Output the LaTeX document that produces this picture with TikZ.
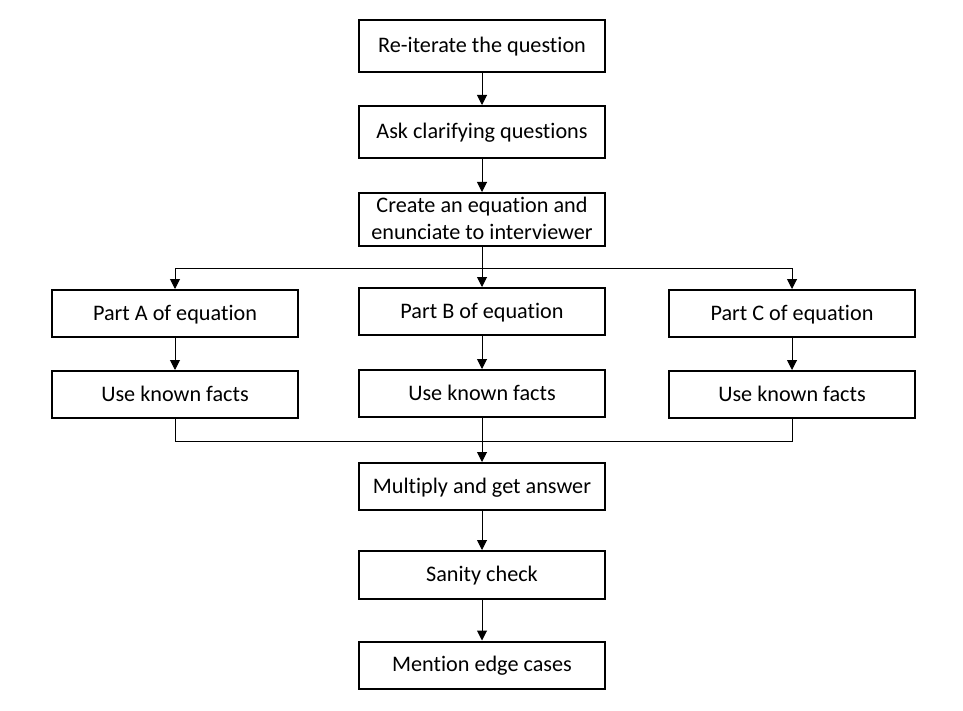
\documentclass[tikz,border=0pt]{standalone}
\usepackage{fontspec}
\setmainfont[Ligatures={NoCommon}]{Carlito}
\usetikzlibrary{arrows.meta}
\begin{document}
\begin{tikzpicture}[x=0.5pt,y=-0.5pt,
  box/.style={draw=black,line width=1pt,minimum width=123pt,inner sep=0pt,align=center,font=\fontsize{11.1}{13.5}\selectfont,text depth=1pt},
  conn/.style={line width=0.5pt,draw=black},
  arr/.style={conn,-{Triangle[length=5pt,width=5pt]}}]
\fill[white] (0,0) rectangle (963,711);
\useasboundingbox (0,0) rectangle (963,711);
\node[box,minimum height=26pt] (b1) at (482,46) {Re-iterate the question};
\node[box,minimum height=26pt] (b2) at (482,132) {Ask clarifying questions};
\node[box,minimum height=26.5pt] (b3) at (482,219.5) {Create an equation and\\enunciate to interviewer};
\node[box,minimum height=23.5pt] (pa) at (175,313.5) {Part A of equation};
\node[box,minimum height=23.5pt] (pb) at (482,311.5) {Part B of equation};
\node[box,minimum height=23.5pt] (pc) at (792,313.5) {Part C of equation};
\node[box,minimum height=23.5pt] (ua) at (175,394.5) {Use known facts};
\node[box,minimum height=23.5pt] (ub) at (482,393.5) {Use known facts};
\node[box,minimum height=23.5pt] (uc) at (792,394.5) {Use known facts};
\node[box,minimum height=23.5pt] (mu) at (482,486.5) {Multiply and get answer};
\node[box,minimum height=24pt] (sc) at (482,575) {Sanity check};
\node[box,minimum height=23.5pt] (me) at (482,665) {Mention edge cases};
\coordinate (br) at (482,268);
\coordinate (mg) at (482,441);
\draw[arr] (b1) -- (b2);
\draw[arr] (b2) -- (b3);
\draw[conn] (b3) -- (br);
\draw[arr] (br) -- (pb);
\draw[arr] (br) -| (pa.north);
\draw[arr] (br) -| (pc.north);
\draw[arr] (pa) -- (ua);
\draw[arr] (pb) -- (ub);
\draw[arr] (pc) -- (uc);
\draw[conn] (ua.south) |- (mg);
\draw[conn] (uc.south) |- (mg);
\draw[arr] (ub) -- (mu);
\draw[arr] (mu) -- (sc);
\draw[arr] (sc) -- (me);
\end{tikzpicture}
\end{document}
